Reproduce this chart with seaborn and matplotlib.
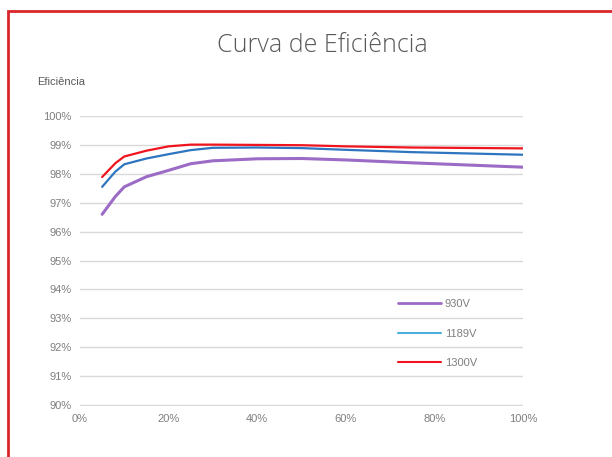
import matplotlib
matplotlib.use("Agg")
import matplotlib.pyplot as plt
import seaborn as sns
import pandas as pd
from matplotlib.lines import Line2D
from matplotlib.patches import Rectangle
from matplotlib.ticker import FuncFormatter

# Data (load % vs efficiency %)
load = [5, 8, 10, 15, 20, 25, 30, 40, 50, 60, 75, 100]
eff_930 = [96.6, 97.22, 97.55, 97.9, 98.12, 98.35, 98.45, 98.52, 98.53, 98.48, 98.38, 98.23]
eff_1189 = [97.55, 98.08, 98.33, 98.53, 98.68, 98.82, 98.9, 98.91, 98.89, 98.83, 98.75, 98.66]
eff_1300 = [97.89, 98.37, 98.6, 98.8, 98.95, 99.01, 99.01, 99.0, 98.99, 98.95, 98.91, 98.88]
series_names = ["930V", "1189V", "1300V"]
x_ticks = [0, 20, 40, 60, 80, 100]
y_ticks = list(range(90, 101))

df = pd.concat([
    pd.DataFrame({"load": load, "eff": eff_930, "serie": "930V"}),
    pd.DataFrame({"load": load, "eff": eff_1189, "serie": "1189V"}),
    pd.DataFrame({"load": load, "eff": eff_1300, "serie": "1300V"}),
])

line_colors = {"930V": "#9B6BC6", "1189V": "#2E75C0", "1300V": "#F0141E"}
legend_colors = {"930V": "#9B6BC6", "1189V": "#4BB0DC", "1300V": "#F0141E"}
widths = {"930V": 2.2, "1189V": 1.6, "1300V": 1.6}

sns.set_style("white")
plt.rcParams['font.family'] = ['Liberation Sans', 'DejaVu Sans']

fig = plt.figure(figsize=(6.12, 4.57), dpi=100)
ax = fig.add_axes([80/612, 1-406/457, 443/612, 290/457])

for name in series_names:
    sub = df[df["serie"] == name]
    sns.lineplot(data=sub, x="load", y="eff", ax=ax, color=line_colors[name],
                 linewidth=widths[name], legend=False, zorder=3)

ax.set_xlim(0, 100)
ax.set_ylim(89.97, 100)
ax.set_xticks(x_ticks)
ax.set_yticks(y_ticks)
ax.xaxis.set_major_formatter(FuncFormatter(lambda v, p: f"{v:.0f}%"))
ax.yaxis.set_major_formatter(FuncFormatter(lambda v, p: f"{v:.0f}%"))
ax.grid(axis="y", color="#D9D9D9", linewidth=1)
ax.grid(axis="x", visible=False)
for s in ax.spines.values():
    s.set_visible(False)
ax.tick_params(axis="both", length=0, labelsize=8, labelcolor="#7F7F7F")
ax.tick_params(axis="x", pad=6)
ax.tick_params(axis="y", pad=6)
ax.set_xlabel("")
ax.set_ylabel("")

handles = [Line2D([], [], color=legend_colors[n], linewidth=2.0 if n == "930V" else 1.5) for n in series_names]
leg = ax.legend(handles, series_names, loc="upper left", bbox_to_anchor=(0.708, 0.383),
                frameon=False, fontsize=8, labelcolor="#7F7F7F", handlelength=3.85,
                handletextpad=0.35, labelspacing=1.75, borderaxespad=0)

fig.text(322/612, 1-45/457, "Curva de Eficiência", ha="center", va="center",
         fontsize=18, color="#595959", family=["Open Sans", "DejaVu Sans"], fontweight="light")
fig.text(37/612, 1-82/457, "Eficiência", ha="left", va="center", fontsize=8, color="#595959")

fig.add_artist(Rectangle((8/612, -0.1), 1.2, 1.1 - 11/457, fill=False,
                         edgecolor="#D9262A", linewidth=2, transform=fig.transFigure))

fig.savefig("out.png", dpi=100)
